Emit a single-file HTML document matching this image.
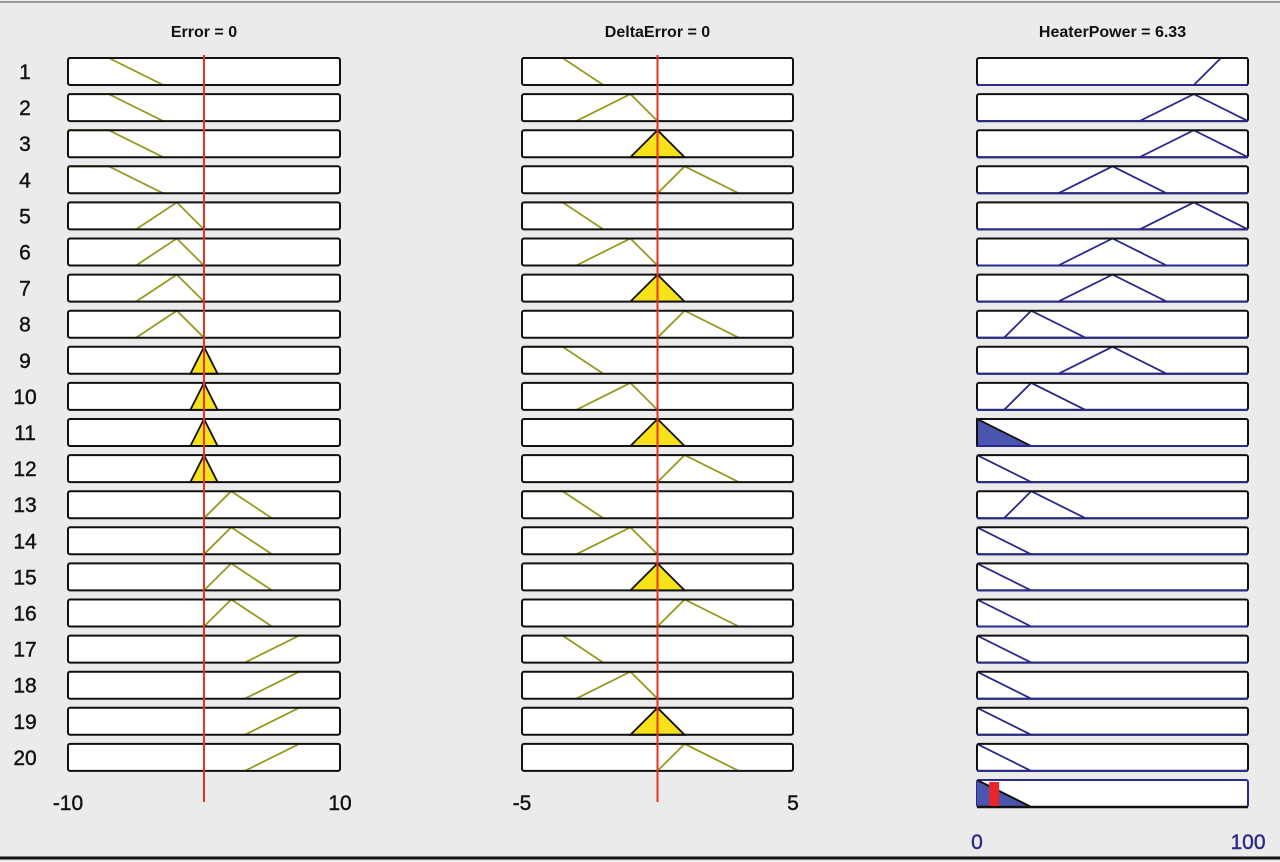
<!DOCTYPE html>
<html><head><meta charset="utf-8"><style>
body{margin:0;background:#ebebeb;}
svg{display:block;font-family:"Liberation Sans",Arial,sans-serif;}
</style></head><body>
<svg id="chart" width="1280" height="862" viewBox="0 0 1280 862">
<rect x="0" y="0" width="1280" height="862" fill="#ebebeb"/>
<line x1="0" y1="2" x2="1280" y2="2" stroke="#9a9a9a" stroke-width="2"/>
<line x1="0" y1="858" x2="1280" y2="858" stroke="#111" stroke-width="3"/>
</svg>
<script>
// Membership function definitions (trapezoid a,b,c,d)
const errMFs = {NB:[-10,-10,-7,-3], NS:[-5,-2,-2,0], Z:[-1,0,0,1], PS:[0,2,2,5], PB:[3,7,10,10]};
const dMFs = {NB:[-5,-5,-3.5,-2], NS:[-3,-1,-1,0], Z:[-1,0,0,1], PS:[0,1,1,3]};
const outMFs = {Z:[0,0,0,20], L:[10,20,20,40], M:[30,50,50,70], H:[60,80,80,100], VH:[80,90,100,100]};
const ruleErr = ['NB','NB','NB','NB','NS','NS','NS','NS','Z','Z','Z','Z','PS','PS','PS','PS','PB','PB','PB','PB'];
const ruleDelta = ['NB','NS','Z','PS','NB','NS','Z','PS','NB','NS','Z','PS','NB','NS','Z','PS','NB','NS','Z','PS'];
const ruleOut = ['VH','H','H','M','H','M','M','L','M','L','Z','Z','L','Z','Z','Z','Z','Z','Z','Z'];
const errValue = 0;
const deltaValue = 0;
const outValue = 6.33;
const errTicks = ['-10','10'];
const deltaTicks = ['-5','5'];
const outTicks = ['0','100'];

const svg = document.getElementById('chart');
const NS = 'http://www.w3.org/2000/svg';
function mk(tag, attrs, parent){const e=document.createElementNS(NS,tag);for(const k in attrs)e.setAttribute(k,attrs[k]);(parent||svg).appendChild(e);return e;}

const cols = [
 {x0:68,x1:340,min:-10,max:10,mfs:errMFs,rules:ruleErr,val:errValue,col:'#999922',fill:'#f7e21a',title:'Error = '+errValue,ticks:errTicks,name:'error'},
 {x0:522,x1:793,min:-5,max:5,mfs:dMFs,rules:ruleDelta,val:deltaValue,col:'#999922',fill:'#f7e21a',title:'DeltaError = '+deltaValue,ticks:deltaTicks,name:'delta-error'},
 {x0:977,x1:1248,min:0,max:100,mfs:outMFs,rules:ruleOut,val:outValue,col:'#2a2a8c',fill:'#4b55b0',title:'HeaterPower = '+outValue,ticks:outTicks,name:'heater-power'}
];
const rowTop = 58, pitch = 36.1, boxH = 27;
function mu(mf,v){const[a,b,c,d]=mf;if(v<a||v>d)return 0;if(v>=b&&v<=c)return 1;if(v<b)return (v-a)/(b-a);return (d-v)/(d-c);}

const strength = ruleErr.map((e,i)=>Math.min(mu(errMFs[e],errValue),mu(dMFs[ruleDelta[i]],deltaValue)));

cols.forEach((c,ci)=>{
  const sx = v => c.x0 + (v-c.min)/(c.max-c.min)*(c.x1-c.x0);
  let t = mk('text',{x:(c.x0+c.x1)/2,y:37,'text-anchor':'middle','font-size':16,'font-weight':'bold',fill:'#111'});
  t.textContent = c.title;
  
  
  c.rules.forEach((r,i)=>{
    const y0 = rowTop + i*pitch, yb = y0+boxH;
    const g = mk('g',{});
    
    
    mk('rect',{x:c.x0,y:y0,width:c.x1-c.x0,height:boxH,rx:2,fill:'#fff'},g);
    const [a,b,cc,d] = c.mfs[r];
    const h = v => yb - v*boxH;
    const ptsArr = [];
    if (a!==b) ptsArr.push([sx(a),yb]);
    ptsArr.push([sx(b),y0],[sx(cc),y0]);
    if (cc!==d) ptsArr.push([sx(d),yb]);
    const pts = ptsArr.map(p=>p.join(',')).join(' ');
    let fillLevel = ci<2 ? mu(c.mfs[r],c.val) : strength[i];
    if (fillLevel>0) {
      const ytop = h(fillLevel);
      const xl = sx(a)+(sx(b)-sx(a))*fillLevel, xr = sx(d)-(sx(d)-sx(cc))*fillLevel;
      mk('polygon',{points:`${sx(a)},${yb} ${xl},${ytop} ${xr},${ytop} ${sx(d)},${yb}`,fill:c.fill,stroke:'#111','stroke-width':1.8},g);
    } else {
      mk('polyline',{points:pts,fill:'none',stroke:c.col,'stroke-width':1.8},g);
    }
    mk('rect',{x:c.x0,y:y0,width:c.x1-c.x0,height:boxH,rx:2,fill:'none',stroke:'#111','stroke-width':2},g);
    if (ci===2) mk('line',{x1:c.x0,y1:yb,x2:c.x1,y2:yb,stroke:c.col,'stroke-width':2},g);
    if (ci===0){
      const lt = mk('text',{x:25,y:y0+21,'text-anchor':'middle','font-size':21,fill:'#111','stroke':'#111','stroke-width':0.4});
      lt.textContent = String(i+1);
      
      
    }
  });
  if (ci<2){
    const l = mk('line',{x1:sx(c.val),y1:rowTop-3,x2:sx(c.val),y2:802,stroke:'#e8321e','stroke-width':2});
    
    
  } else {
    const y0 = 780, yb = 807;
    const g = mk('g',{});
    
    
    mk('rect',{x:c.x0,y:y0,width:c.x1-c.x0,height:boxH,rx:2,fill:'#fff',stroke:'#2a2a8c','stroke-width':2},g);
    let maxS = Math.max(...strength);
    const [a,b,cc,d] = outMFs['Z'];
    mk('polygon',{points:`${sx(a)},${yb} ${sx(a)},${yb-maxS*boxH} ${sx(d)},${yb}`,fill:c.fill,stroke:'none'},g);
    mk('line',{x1:sx(a),y1:yb-maxS*boxH,x2:sx(d),y2:yb,stroke:'#111','stroke-width':2},g);
    mk('line',{x1:c.x0,y1:yb,x2:c.x1,y2:yb,stroke:'#111','stroke-width':2.5},g);
    const r = mk('rect',{x:sx(c.val)-5,y:y0+2,width:10,height:boxH-3,fill:'#e8262a'});
    
    
  }
  const tickY = ci<2 ? 810 : 849;
  const tc = ci<2 ? '#111' : '#2a2a8c';
  [c.x0,c.x1].forEach((x,k)=>{
    const tt = mk('text',{x:x,y:tickY,'text-anchor':'middle','font-size':21,fill:tc,stroke:tc,'stroke-width':0.4});
    tt.textContent = c.ticks[k];
    
    
  });
});
</script>
</body></html>
